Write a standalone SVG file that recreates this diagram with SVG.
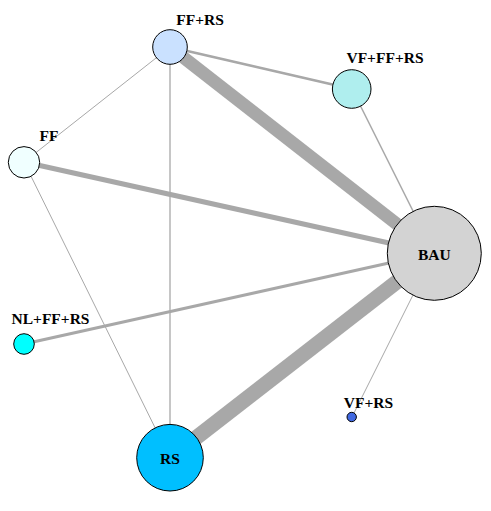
<svg xmlns="http://www.w3.org/2000/svg" width="491" height="511" viewBox="0 0 491 511">
<style>
.e{stroke:#A8A8A8;fill:none;stroke-linecap:butt}
.n{stroke:#000;stroke-width:1}
.t{font-family:"Liberation Serif","Times New Roman",serif;font-weight:bold;font-size:15.5px;fill:#000;text-anchor:middle}
</style>
<rect width="491" height="511" fill="#fff"/>
<g id="edges">
<line class="e" x1="170" y1="47" x2="434" y2="253" stroke-width="13"/>
<line class="e" x1="170" y1="458" x2="434" y2="253" stroke-width="15"/>
<line class="e" x1="24" y1="162" x2="434" y2="253" stroke-width="5"/>
<line class="e" x1="24" y1="344" x2="434" y2="253" stroke-width="3"/>
<line class="e" x1="170" y1="47" x2="352" y2="89" stroke-width="2.5"/>
<line class="e" x1="352" y1="89" x2="434" y2="253" stroke-width="1.6"/>
<line class="e" x1="170" y1="47" x2="24" y2="162" stroke-width="1"/>
<line class="e" x1="170" y1="47" x2="170" y2="458" stroke-width="1.3"/>
<line class="e" x1="24" y1="162" x2="170" y2="458" stroke-width="1"/>
<line class="e" x1="352" y1="417" x2="434" y2="253" stroke-width="1"/>
</g>
<g id="node-BAU"><circle class="n" cx="434.3" cy="253.3" r="47" fill="#D3D3D3"/><text class="t" x="434.3" y="259.5">BAU</text></g>
<g id="node-FF-RS"><circle class="n" cx="170" cy="47" r="17.3" fill="#CAE1FF"/><text class="t" x="200" y="25">FF+RS</text></g>
<g id="node-VF-FF-RS"><circle class="n" cx="351.7" cy="89" r="19.3" fill="#AFEEEE"/><text class="t" x="385" y="63">VF+FF+RS</text></g>
<g id="node-FF"><circle class="n" cx="24" cy="162.3" r="15.7" fill="#F0FFFF"/><text class="t" x="49" y="141">FF</text></g>
<g id="node-NL-FF-RS"><circle class="n" cx="24" cy="344" r="10.3" fill="#00FFFF"/><text class="t" x="50.5" y="324">NL+FF+RS</text></g>
<g id="node-VF-RS"><circle class="n" cx="351.7" cy="417" r="4.7" fill="#4169E1"/><text class="t" x="368.5" y="408">VF+RS</text></g>
<g id="node-RS"><circle class="n" cx="170" cy="457.7" r="33.3" fill="#00BFFF"/><text class="t" x="170" y="464">RS</text></g>
</svg>
